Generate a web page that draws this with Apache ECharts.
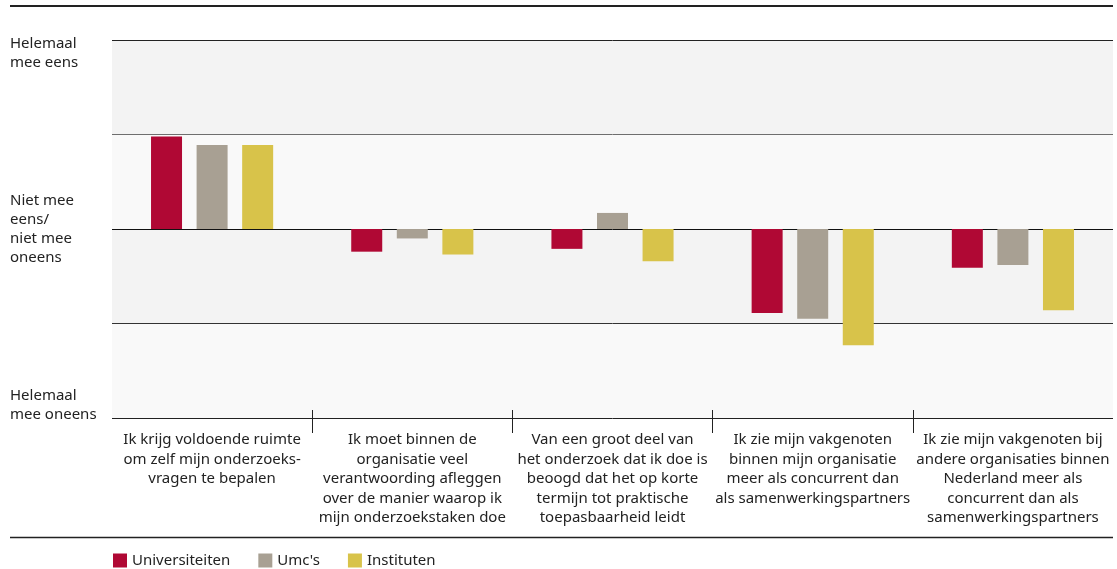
<!DOCTYPE html>
<html>
<head>
<meta charset="utf-8">
<script src="https://cdn.jsdelivr.net/npm/echarts@6/dist/echarts.min.js"></script>
<style>
html,body{margin:0;padding:0;background:#fff;}
#c{width:1117px;height:569px;}
</style>
</head>
<body>
<div id="c"></div>
<script>
const categories = [
  "Ik krijg voldoende ruimte\nom zelf mijn onderzoeks-\nvragen te bepalen",
  "Ik moet binnen de\norganisatie veel\nverantwoording afleggen\nover de manier waarop ik\nmijn onderzoekstaken doe",
  "Van een groot deel van\nhet onderzoek dat ik doe is\nbeoogd dat het op korte\ntermijn tot praktische\ntoepasbaarheid leidt",
  "Ik zie mijn vakgenoten\nbinnen mijn organisatie\nmeer als concurrent dan\nals samenwerkingspartners",
  "Ik zie mijn vakgenoten bij\nandere organisaties binnen\nNederland meer als\nconcurrent dan als\nsamenwerkingspartners"
];
const seriesNames = ["Universiteiten", "Umc's", "Instituten"];
const universiteiten = [0.98, -0.24, -0.21, -0.89, -0.41];
const umcs = [0.89, -0.10, 0.17, -0.95, -0.38];
const instituten = [0.89, -0.27, -0.34, -1.23, -0.86];
const yTickLabels = {
  "2": "Helemaal\nmee eens",
  "0": "Niet mee\neens/\nniet mee\noneens",
  "-2": "Helemaal\nmee oneens"
};
const boundaryTicks = [1, 2, 3, 4];

const FONT = '"Noto Sans", "Open Sans", sans-serif';
const FS = 15;
const TXT = '#222';
const colors = ['#b00834', '#a8a093', '#d8c34a'];

const chart = echarts.init(document.getElementById('c'), null, {renderer: 'canvas'});

function yLabel(v) {
  const t = yTickLabels[String(v)];
  if (!t) return '';
  const lines = t.split('\n').map(l => '{n|' + l + '}');
  if (v === 2) return ['{s| }'].concat(lines).join('\n');
  if (v === -2) return lines.concat(['{s| }']).join('\n');
  return lines.join('\n');
}

const baseText = {fontFamily: FONT, fontSize: FS, color: TXT, lineHeight: 19};

const valueTickAxis = (extra) => Object.assign({
  type: 'value', min: 0, max: 5, interval: 1,
  axisLabel: {show: false}, splitLine: {show: false},
  axisLine: {show: false}
}, extra);

chart.setOption({
  animation: false,
  color: colors,
  textStyle: {fontFamily: FONT},
  grid: {left: 112, right: 4, top: 40, bottom: 151, containLabel: false},
  legend: {
    left: 113, top: 553, padding: 0,
    itemWidth: 14, itemHeight: 14, itemGap: 28,
    icon: 'rect',
    textStyle: {fontFamily: FONT, fontSize: FS, color: TXT},
    data: seriesNames
  },
  xAxis: [
    {
      type: 'category', data: categories,
      axisLine: {show: false}, axisTick: {show: false},
      axisLabel: {interval: 0, margin: 12, fontFamily: FONT, fontSize: FS, color: TXT, lineHeight: 19.5, align: 'center'}
    },
    valueTickAxis({
      position: 'bottom',
      axisLine: {show: false, onZero: false},
      axisTick: {show: true, length: 15, customValues: boundaryTicks, lineStyle: {color: '#222', width: 1}}
    }),
    valueTickAxis({
      position: 'bottom',
      axisLine: {show: false, onZero: true},
      axisTick: {show: true, inside: true, length: 8, customValues: boundaryTicks, lineStyle: {color: '#222', width: 1}}
    }),
    valueTickAxis({
      position: 'bottom',
      axisLine: {show: false, onZero: true},
      axisTick: {show: true, inside: false, length: 8, customValues: boundaryTicks, lineStyle: {color: '#222', width: 1}}
    })
  ],
  yAxis: {
    type: 'value', min: -2, max: 2, interval: 1,
    axisLine: {show: false}, axisTick: {show: false},
    splitLine: {show: true, lineStyle: {color: ['#222', '#333', '#111', '#6e6e6e', '#222'], width: 1}},
    splitArea: {show: true, areaStyle: {color: ['#f9f9f9', '#f3f3f3']}},
    axisLabel: {
      align: 'left', margin: 102,
      formatter: yLabel,
      rich: {
        s: {fontFamily: FONT, fontSize: 1, lineHeight: 26},
        n: Object.assign({}, baseText)
      }
    }
  },
  graphic: [
    {type: 'line', shape: {x1: 10, y1: 6, x2: 1113, y2: 6}, style: {stroke: '#222', lineWidth: 2}, silent: true},
    {type: 'line', shape: {x1: 10, y1: 537.5, x2: 1113, y2: 537.5}, style: {stroke: '#222', lineWidth: 1.5}, silent: true}
  ],
  series: [
    {name: seriesNames[0], type: 'bar', data: universiteiten, barWidth: 31, barGap: '47%', xAxisIndex: 0},
    {name: seriesNames[1], type: 'bar', data: umcs, barWidth: 31, barGap: '47%', xAxisIndex: 0},
    {name: seriesNames[2], type: 'bar', data: instituten, barWidth: 31, barGap: '47%', xAxisIndex: 0}
  ]
});
</script>
</body>
</html>
